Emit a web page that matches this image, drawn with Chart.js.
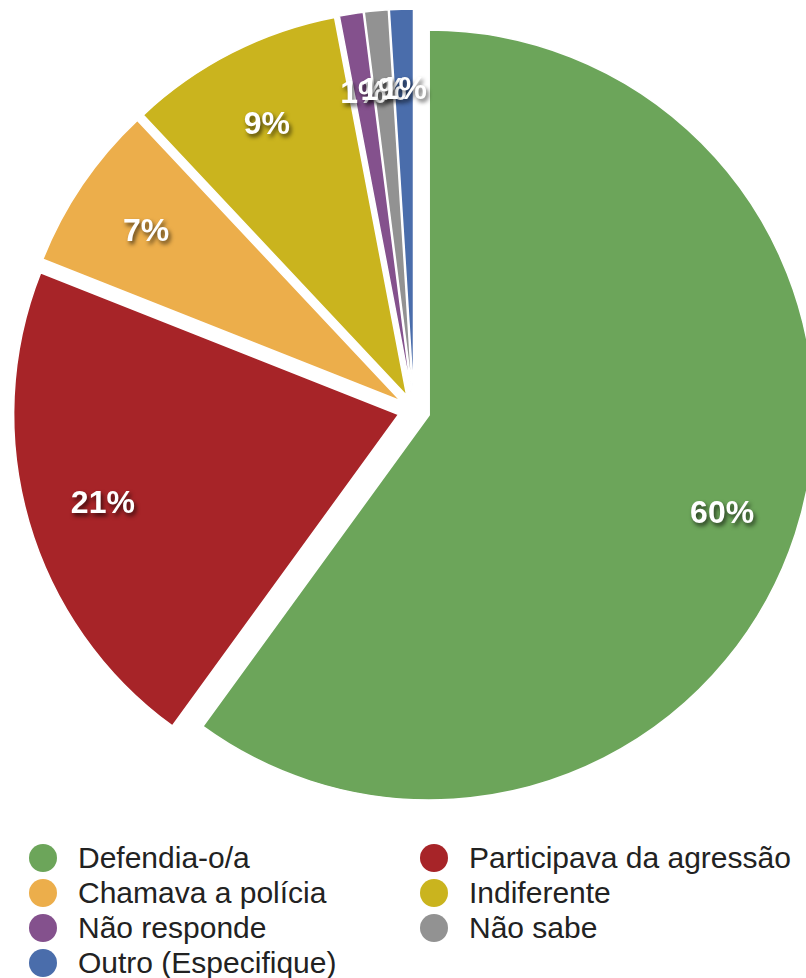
<!DOCTYPE html>
<html>
<head>
<meta charset="utf-8">
<script src="https://cdn.jsdelivr.net/npm/chart.js@4.4.0/dist/chart.umd.min.js"></script>
<style>
  body { margin: 0; background: #fff; font-family: "Liberation Sans", Arial, sans-serif; }
  #wrap { position: relative; width: 806px; height: 820px; }
  #legend { position: absolute; top: 840px; left: 0; width: 806px; }
  #legend .item { position: absolute; height: 35px; line-height: 35px; font-size: 30px; color: #222; white-space: nowrap; }
  #legend .dot { position: absolute; left: 0; top: 4px; width: 28px; height: 28px; border-radius: 50%; }
  #legend .txt { position: absolute; left: 49px; top: 0; }
</style>
</head>
<body>
<div id="wrap"><canvas id="pie-chart"></canvas></div>
<div id="legend"></div>
<script>
const categories = ["Defendia-o/a", "Participava da agressão", "Chamava a polícia", "Indiferente", "Não responde", "Não sabe", "Outro (Especifique)"];
const values = [60, 21, 7, 9, 1, 1, 1];
const pctLabels = ["60%", "21%", "7%", "9%", "1%", "1%", "1%"];
const colors = ["#6ca55a", "#a72428", "#ecae4b", "#cab41e", "#84518d", "#929292", "#4a6dab"];

const SHIFT = 16;   // every slice pulled out by this many px
const RADIUS = 385;

// explode the slices by moving each arc's centre along its mid angle
// (the built-in offset option also trims arc length, which eats the 1% slices)
const explode = {
  id: 'explode',
  afterDatasetUpdate(chart, args) {
    if (args.index !== 0) return;
    chart.getDatasetMeta(0).data.forEach(arc => {
      const mid = (arc.startAngle + arc.endAngle) / 2;
      arc.x += Math.cos(mid) * SHIFT;
      arc.y += Math.sin(mid) * SHIFT;
    });
  }
};

// white percentage labels with a drop shadow
const pctPlugin = {
  id: 'pctLabels',
  afterDatasetsDraw(chart) {
    const ctx = chart.ctx;
    const meta = chart.getDatasetMeta(0);
    ctx.save();
    ctx.font = 'bold 32px "Liberation Sans", Arial, sans-serif';
    ctx.textAlign = 'center';
    ctx.textBaseline = 'middle';
    ctx.fillStyle = '#fff';
    ctx.shadowColor = 'rgba(0,0,0,0.65)';
    ctx.shadowBlur = 4;
    ctx.shadowOffsetX = 2;
    ctx.shadowOffsetY = 3;
    meta.data.forEach((arc, i) => {
      const mid = (arc.startAngle + arc.endAngle) / 2;
      const d = RADIUS * 0.8;
      ctx.fillText(pctLabels[i], arc.x + Math.cos(mid) * d, arc.y + Math.sin(mid) * d + 4);
    });
    ctx.restore();
  }
};

new Chart(document.getElementById('pie-chart'), {
  type: 'pie',
  data: {
    labels: categories,
    datasets: [{
      data: values,
      backgroundColor: colors,
      borderColor: '#fff',
      borderWidth: 1.5,
      radius: RADIUS
    }]
  },
  options: {
    responsive: true,
    maintainAspectRatio: false,
    animation: false,
    layout: { padding: { left: 22 } },
    plugins: {
      legend: { display: false },
      tooltip: { enabled: false }
    }
  },
  plugins: [explode, pctPlugin]
});

// two-column legend
const legend = document.getElementById('legend');
categories.forEach((name, i) => {
  const col = i % 2, row = Math.floor(i / 2);
  const el = document.createElement('div');
  el.className = 'item';
  el.style.left = (col ? 420 : 29) + 'px';
  el.style.top = (row * 35) + 'px';
  el.innerHTML = '<span class="dot" style="background:' + colors[i] + '"></span><span class="txt">' + name + '</span>';
  legend.appendChild(el);
});
</script>
</body>
</html>
